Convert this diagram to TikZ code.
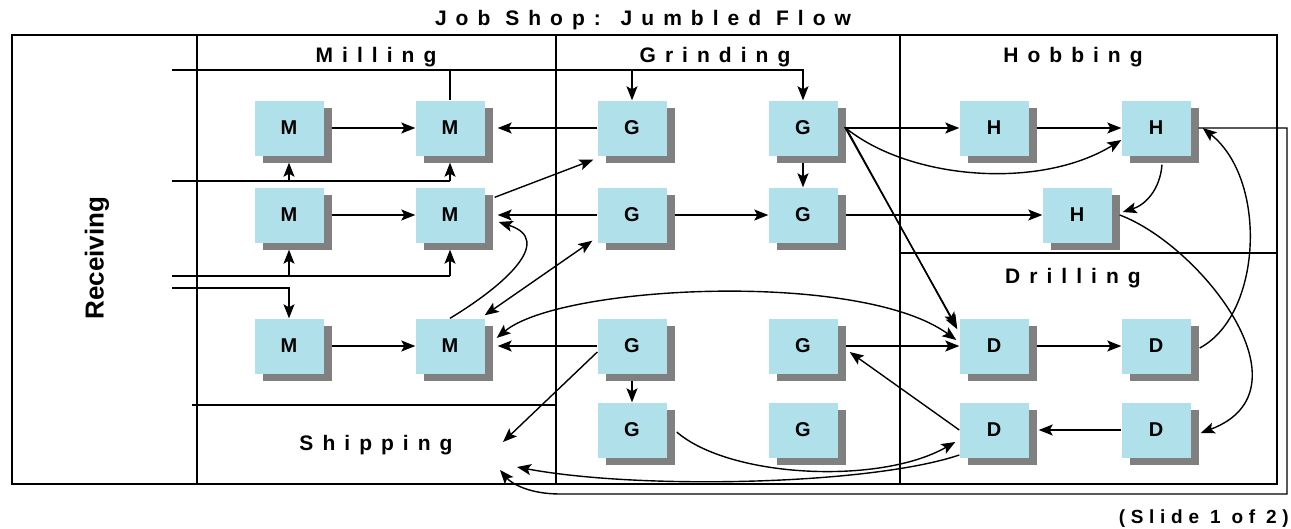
\documentclass[tikz,border=0pt]{standalone}
\usepackage{fontspec}
\setmainfont{Liberation Sans}
\newfontfamily\spacedfont[LetterSpace=43]{Liberation Sans}
\newfontfamily\slidefont[LetterSpace=30]{Liberation Sans}
\usetikzlibrary{arrows.meta,shadows,calc}
\definecolor{boxcyan}{RGB}{176,224,234}
\definecolor{shadowgray}{RGB}{128,128,128}
\begin{document}
\begin{tikzpicture}[x=1pt,y=-1pt,
  mbox/.style={fill=boxcyan, minimum width=69pt, minimum height=55pt, inner sep=0pt,
    font=\bfseries\fontsize{20}{22}\selectfont,
    drop shadow={shadow xshift=8pt,shadow yshift=-7pt,fill=shadowgray,opacity=1}},
  hdr/.style={font=\spacedfont\bfseries\fontsize{21}{23}\selectfont, inner sep=0pt, anchor=base},
  flow/.style={line width=1.4pt},
  tip/.tip={Stealth[length=14pt,width=11pt,inset=3pt]},
  arr/.style={flow,-tip},
  darr/.style={flow,tip-tip},
  frame/.style={line width=1.7pt}
]
\useasboundingbox (0,0) rectangle (1291,528);

% frame
\draw[frame] (12,35) rectangle (1277,484);
\draw[frame] (197,35) -- (197,484);
\draw[frame] (556,35) -- (556,484);
\draw[frame] (900,35) -- (900,484);
\draw[frame] (900,253) -- (1277,253);
\draw[frame] (192,405) -- (556,405);

% texts
\node[hdr] (title) at (643,25) {Job Shop: Jumbled Flow};
\node[hdr] (milling) at (376,62) {Milling};
\node[hdr] (grinding) at (715,62) {Grinding};
\node[hdr] (hobbing) at (1073,62) {Hobbing};
\node[hdr] (drilling) at (1073,283) {Drilling};
\node[hdr] (shipping) at (376,450) {Shipping};
\node[font=\bfseries\fontsize{26}{28}\selectfont, rotate=90, inner sep=0pt] (receiving) at (97,258) {Receiving};
\node[font=\slidefont\bfseries\fontsize{19}{21}\selectfont, inner sep=0pt, anchor=base east] (slide) at (1289,523) {(Slide 1 of 2)};

% machines
\node[mbox] (M11) at (289,128) {M};
\node[mbox] (M12) at (450,128) {M};
\node[mbox] (M21) at (289,215) {M};
\node[mbox] (M22) at (450,215) {M};
\node[mbox] (M31) at (289,346) {M};
\node[mbox] (M32) at (450,346) {M};
\node[mbox] (G11) at (632,128) {G};
\node[mbox] (G12) at (803,128) {G};
\node[mbox] (G21) at (632,215) {G};
\node[mbox] (G22) at (803,215) {G};
\node[mbox] (G31) at (632,346) {G};
\node[mbox] (G32) at (803,346) {G};
\node[mbox] (G41) at (632,430) {G};
\node[mbox] (G42) at (803,430) {G};
\node[mbox] (H11) at (994,128) {H};
\node[mbox] (H12) at (1156,128) {H};
\node[mbox] (H21) at (1077,215) {H};
\node[mbox] (D31) at (994,346) {D};
\node[mbox] (D32) at (1156,346) {D};
\node[mbox] (D41) at (994,430) {D};
\node[mbox] (D42) at (1156,430) {D};

% coordinates
\coordinate (R1) at (172,70);
\coordinate (R2) at (172,181);
\coordinate (R3) at (172,276);
\coordinate (R4) at (172,288);
\coordinate (ship1) at (500,470);
\coordinate (ship2) at (503,442);
\coordinate (ship3) at (517,467);
\coordinate (loopC) at (1287,494);
\coordinate (loopB) at (560,494);

% receiving flows
\draw[arr] (R1) -| (G12.north);
\draw[arr] (G11.north |- R1) -- (G11.north);
\draw[flow] (M12.north |- R1) -- (M12.north);
\draw[flow] (R2) -- (M12.south |- R2);
\draw[arr] (M11.south |- R2) -- ([yshift=-7pt]M11.south);
\draw[arr] (M12.south |- R2) -- ([yshift=-7pt]M12.south);
\draw[flow] (R3) -- (M22.south |- R3);
\draw[arr] (M21.south |- R3) -- ([yshift=-7pt]M21.south);
\draw[arr] (M22.south |- R3) -- ([yshift=-7pt]M22.south);
\draw[arr] (R4) -| (M31.north);

% straight connectors
\draw[arr] ([xshift=8pt]M11.east) -- (M12.west);
\draw[arr] ([xshift=8pt]M21.east) -- (M22.west);
\draw[arr] ([xshift=8pt]M31.east) -- (M32.west);
\draw[arr] (G11.west) -- ([xshift=13pt]M12.east);
\draw[arr] (G21.west) -- ([xshift=13pt]M22.east);
\draw[arr] (G31.west) -- ([xshift=13pt]M32.east);
\draw[arr] ([xshift=8pt]G21.east) -- (G22.west);
\draw[arr] ([xshift=8pt]G12.east) -- (H11.west);
\draw[arr] ([xshift=8pt]H11.east) -- (H12.west);
\draw[arr] ([xshift=8pt]G22.east) -- (H21.west);
\draw[arr] ([xshift=8pt]G32.east) -- (D31.west);
\draw[arr] ([xshift=8pt]D31.east) -- (D32.west);
\draw[arr] (D42.west) -- ([xshift=10pt]D41.east);
\draw[arr] ([yshift=-7pt]G12.south) -- (G22.north);
\draw[arr] ([yshift=-7pt]G31.south) -- (G41.north);

% diagonals
\draw[arr] ([xshift=10pt,yshift=-10pt]M22.north east) -- ([xshift=-4pt,yshift=-4pt]G11.south west);
\draw[darr] ([yshift=3pt]M32.north east) -- ([xshift=-5pt,yshift=2pt]G21.south west);
\draw[arr] ([yshift=-6pt]G31.west) -- (ship2);
\draw[arr] (D41.west) -- ([xshift=12pt,yshift=-6pt]G32.east);
\draw[arr] ([xshift=7pt,yshift=1pt]G12.east) -- ([xshift=-3pt,yshift=-8pt]D31.north west);
\draw[arr] ([xshift=9pt,yshift=-1pt]G12.east) -- ([xshift=-2pt,yshift=-11pt]D31.north west);

% curves
\draw[arr] ([xshift=8pt]G12.east) .. controls (910,180) and (1040,190) .. ([yshift=-12pt]H12.west);
\draw[arr] ([xshift=6pt,yshift=-9pt]H12.south) .. controls (1160,190) and (1145,205) .. ([xshift=11pt,yshift=3pt]H21.east);
\draw[arr] ([xshift=8pt]H21.east) .. controls (1200,245) and (1315,390) .. ([xshift=10pt,yshift=-3pt]D42.east);
\draw[arr] ([xshift=9pt,yshift=-2pt]D32.east) .. controls (1262,315) and (1268,180) .. ([xshift=12pt]H12.east);
\draw[arr] ([xshift=8pt]H12.east) -| (loopC) -- (loopB) .. controls (530,494) and (512,484) .. (ship1);
\draw[arr] ([yshift=-25pt]D41.west) .. controls (870,485) and (640,490) .. (ship3);
\draw[arr] ([xshift=10pt,yshift=-2pt]G41.east) .. controls (730,478) and (880,485) .. ([xshift=-4pt,yshift=-12pt]D41.west);
\draw[arr] (M32.north) .. controls (505,285) and (555,240) .. ([xshift=14pt,yshift=-7pt]M22.east);
\draw[darr] ([xshift=12pt,yshift=8pt]M32.east) .. controls (560,285) and (860,270) .. ([xshift=-3pt,yshift=6pt]D31.west);
\end{tikzpicture}
\end{document}
